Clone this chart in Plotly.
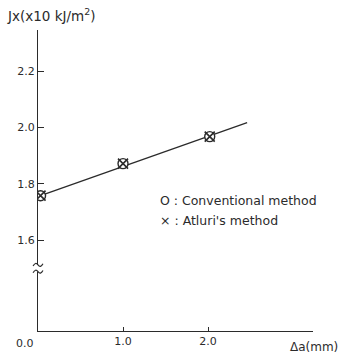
import plotly.graph_objects as go

# data
delta_a = [0.03, 1.0, 2.02]
jx_conventional = [1.758, 1.872, 1.968]
jx_atluri = [1.758, 1.872, 1.968]
fit_x = [0.03, 2.46]
fit_y = [1.758, 2.018]
y_ticks = [1.6, 1.8, 2.0, 2.2]
y_tick_text = ["1.6", "1.8", "2.0", "2.2"]
x_ticks = [1.0, 2.0]
x_tick_text = ["1.0", "2.0"]

ink = "#2b2b2b"
font = "DejaVu Sans"

fig = go.Figure()
fig.add_trace(go.Scatter(x=fit_x, y=fit_y, mode="lines",
                         line=dict(color=ink, width=1.3), showlegend=False))
fig.add_trace(go.Scatter(x=delta_a, y=jx_conventional, mode="markers",
                         marker=dict(symbol="circle", size=10, color="white",
                                     line=dict(color=ink, width=1.4)),
                         showlegend=False))
fig.add_trace(go.Scatter(x=delta_a, y=jx_atluri, mode="markers",
                         marker=dict(symbol="x-thin", size=10, color=ink,
                                     line=dict(color=ink, width=1.6)),
                         showlegend=False))

y_lo, y_hi = 1.277, 2.347
fig.update_layout(
    width=340, height=360,
    margin=dict(l=38, r=27, t=30, b=25),
    paper_bgcolor="white", plot_bgcolor="white",
    font=dict(family=font, color=ink, size=11),
    xaxis=dict(range=[0, 3.235], showgrid=False, zeroline=False,
               showline=True, linecolor=ink, linewidth=1.2,
               tickvals=x_ticks, ticktext=x_tick_text,
               ticks="inside", ticklen=4, tickcolor=ink,
               tickfont=dict(size=11, color=ink)),
    yaxis=dict(range=[y_lo, y_hi], showgrid=False, zeroline=False,
               showline=True, linecolor=ink, linewidth=1.2,
               tickvals=y_ticks, ticktext=y_tick_text,
               ticks="inside", ticklen=6, tickcolor=ink,
               tickfont=dict(size=11, color=ink)),
    showlegend=False,
)

# axis break
fig.add_shape(type="rect", xref="paper", yref="y", x0=-0.01, x1=0.01,
              y0=1.488, y1=1.512, fillcolor="white", line=dict(width=0), layer="above")
for yb in (1.512, 1.488):
    fig.add_shape(type="path", xref="paper", yref="y",
                  path=f"M -0.018,{yb-0.004} Q -0.009,{yb+0.012} 0,{yb} T 0.018,{yb+0.004}",
                  line=dict(color=ink, width=1.2), layer="above")

ann = [
    dict(text="Jx(x10 kJ/m<sup>2</sup>)", x=-0.12, y=1.05, xanchor="left", yanchor="middle",
         font=dict(size=13.5)),
    dict(text="0.0", x=-0.047, y=-0.043, xanchor="center", yanchor="middle",
         font=dict(size=11)),
    dict(text="Δa(mm)", x=1.098, y=-0.052, xanchor="right", yanchor="middle",
         font=dict(size=12)),
    dict(text="O : Conventional method", x=0.436, y=0.433, xanchor="left", yanchor="middle",
         font=dict(size=12.5)),
    dict(text="× : Atluri's method", x=0.436, y=0.367, xanchor="left", yanchor="middle",
         font=dict(size=12.5)),
]
for a in ann:
    fig.add_annotation(xref="paper", yref="paper", showarrow=False, **a)

fig.write_html("out.html")
